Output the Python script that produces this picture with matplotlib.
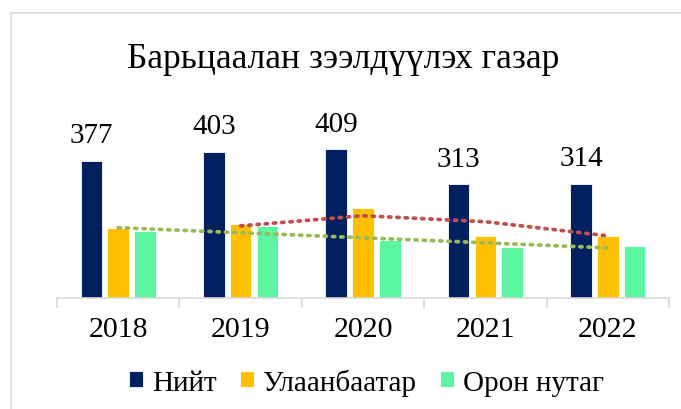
import numpy as np
import matplotlib.pyplot as plt
from matplotlib.patches import Rectangle

# ------------------------------------------------------------------
# Data
# ------------------------------------------------------------------
years = ['2018', '2019', '2020', '2021', '2022']
total = [377, 403, 409, 313, 314]          # Нийт
ulaanbaatar = [192, 205, 248, 172, 170]    # Улаанбаатар
rural = [185, 198, 161, 141, 144]          # Орон нутаг

series_names = ['Нийт', 'Улаанбаатар', 'Орон нутаг']
colors = ['#002060', '#FFC000', '#5CF5A0']

plt.rcParams['font.family'] = ['Liberation Serif', 'DejaVu Serif']

fig = plt.figure(figsize=(6.81, 4.10), dpi=100)
ax = fig.add_axes([0.0837, 0.2707, 0.8987, 0.3988])

x = np.arange(len(years))
w = 0.176
step = 0.219

for k, (vals, col, name) in enumerate(zip([total, ulaanbaatar, rural], colors, series_names)):
    ax.bar(x + (k - 1) * step, vals, w, color=col, label=name,
           edgecolor='white', linewidth=0.6)

# labels on totals only
for xi, v in zip(x, total):
    ax.annotate(str(v), (xi - step, v), xytext=(0, 13.5), textcoords='offset points',
                ha='center', va='baseline', fontsize=21)

# trendlines (Excel style): moving average period 2 for UB, linear for rural
ma = np.convolve(ulaanbaatar, [0.5, 0.5], mode='valid')
ax.plot(x[1:], ma, color='#C0504D', linestyle=(0, (0.6, 1.6)), linewidth=2.7,
        dash_capstyle='round')
coef = np.polyfit(x, rural, 1)
ax.plot(x, np.polyval(coef, x), color='#9BBB59', linestyle=(0, (0.6, 1.6)),
        linewidth=2.7, dash_capstyle='round')

ax.set_xlim(-0.5, 4.5)
ax.set_ylim(0, 450)
ax.set_yticks([])
for s in ['left', 'right', 'top']:
    ax.spines[s].set_visible(False)
ax.spines['bottom'].set_color('#D9D9D9')
ax.spines['bottom'].set_linewidth(1.2)

ax.set_xticks(x)
ax.set_xticklabels(years, fontsize=21.5)
ax.tick_params(axis='x', which='major', length=0, pad=13)
ax.set_xticks(np.arange(-0.5, 5.0, 1.0), minor=True)
ax.tick_params(axis='x', which='minor', length=7, color='#D9D9D9', width=1.2)

fig.text(0.504, 1 - 68 / 410, 'Барьцаалан зээлдүүлэх газар', ha='center',
         va='baseline', fontsize=25.5)

fig.legend(loc='center', bbox_to_anchor=(0.538, 0.066), ncol=3, frameon=False,
           fontsize=21, handlelength=0.48, handleheight=0.48, handletextpad=0.3,
           columnspacing=0.8)

# chart area border
fig.patches.append(Rectangle((11 / 681, -0.1), 1.2, 1 - 14 / 410 + 0.1,
                             transform=fig.transFigure, fill=False,
                             edgecolor='#D9D9D9', linewidth=1.2))

fig.savefig('out.png', dpi=100)
